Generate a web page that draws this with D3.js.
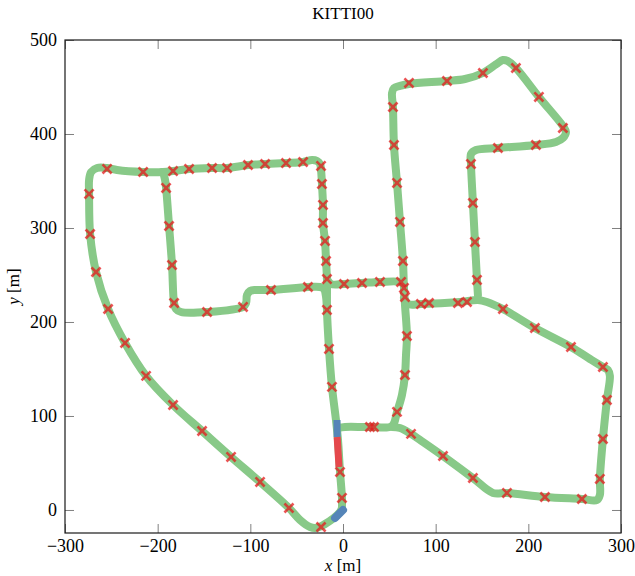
<!DOCTYPE html>
<html>
<head>
<meta charset="utf-8">
<script src="https://cdn.jsdelivr.net/npm/d3@7"></script>
<style>
  html, body { margin: 0; padding: 0; background: #fff; }
  svg { display: block; }
  text { font-family: "Liberation Serif", "Times New Roman", serif; fill: #000; }
</style>
</head>
<body>
<svg id="chart" width="635" height="576"></svg>
<script>
// ---------------- DATA (metres) ----------------
const chartTitle = "KITTI00";
const xTicks = [-300, -200, -100, 0, 100, 200, 300];
const yTicks = [0, 100, 200, 300, 400, 500];
const xDomain = [-300, 300];
const yDomain = [-24.5, 500];

const gtOuterLoop = [
  [-1.1, 2.1], [-3.2, -2.1], [-19.4, -14.9], [-29.1, -19.1], [-35.6, -18.1], [-46.4, -10.6],
  [-58.3, 2.1], [-89.5, 29.8], [-120.8, 56.4], [-152.1, 84.0], [-183.4, 111.7], [-212.5, 142.6],
  [-235.2, 177.7], [-253.5, 213.8], [-266.5, 253.2], [-272.9, 293.6], [-274.0, 336.2],
  [-274.0, 351.1], [-271.8, 359.6], [-265.4, 363.8], [-254.6, 363.8], [-243.8, 361.7],
  [-215.7, 359.6], [-194.2, 359.6], [-183.4, 360.6], [-166.1, 362.8], [-141.3, 363.8],
  [-125.1, 363.8], [-102.5, 367.0], [-84.1, 368.1], [-61.5, 369.1], [-43.1, 370.2],
  [-33.4, 372.3], [-28.0, 371.3], [-24.8, 368.1], [-23.7, 361.7], [-22.7, 346.8],
  [-21.6, 324.5], [-21.6, 305.3], [-19.4, 286.2], [-18.3, 264.9], [-17.3, 245.7],
  [-17.3, 226.6], [-17.3, 212.8], [-15.1, 171.3], [-11.9, 130.9], [-7.6, 95.7],
  [-5.4, 74.5], [-3.2, 40.4], [-1.1, 12.8], [-1.1, 2.1]
];
const gtInnerLoop = [
  [-194.2, 359.6], [-192.0, 351.1], [-190.9, 342.6], [-187.7, 302.1], [-184.5, 260.6],
  [-182.3, 220.2], [-180.2, 213.8], [-174.8, 210.6], [-146.7, 210.6], [-107.9, 216.0],
  [-104.6, 220.2], [-103.6, 228.7], [-100.3, 233.0], [-93.9, 234.0], [-77.7, 234.0],
  [-37.8, 237.2], [-24.8, 237.2], [-20.5, 235.1], [-18.3, 226.6], [-17.3, 212.8]
];
const gtCrossStreet = [
  [-17.3, 245.7], [-12.9, 240.4], [1.1, 240.4], [20.5, 241.5], [39.9, 242.6],
  [61.5, 242.6], [65.8, 239.4]
];
const gtNorthLoop = [
  [-5.4, 87.2], [2.2, 88.3], [29.1, 88.3], [52.9, 89.4], [58.3, 104.3], [63.6, 122.3],
  [66.9, 143.6], [68.0, 164.9], [69.0, 185.1], [66.9, 218.1], [65.8, 236.2], [64.7, 264.9],
  [61.5, 306.4], [58.3, 347.9], [55.0, 388.3], [53.9, 428.7], [52.9, 443.6], [55.0, 448.9],
  [61.5, 451.1], [71.2, 453.2], [112.2, 456.4], [131.6, 458.5], [151.0, 464.9],
  [165.0, 474.0], [172.6, 478.7], [177.5, 477.7], [186.6, 470.2], [211.4, 439.4],
  [237.3, 408.5], [240.6, 402.1], [237.3, 395.7], [229.8, 391.5], [208.2, 388.3],
  [167.2, 385.1], [143.5, 383.0], [138.1, 378.7], [138.1, 368.1], [140.2, 326.6],
  [142.4, 285.1], [144.6, 244.7], [145.6, 228.7]
];
const gtEastLoop = [
  [65.8, 225.5], [70.1, 219.1], [84.1, 219.1], [126.2, 221.3], [145.6, 223.4],
  [155.3, 221.3], [172.6, 213.8], [207.1, 193.6], [246.0, 173.4], [266.5, 160.6],
  [280.5, 152.1], [285.9, 148.9], [288.0, 142.6], [284.8, 117.0], [280.5, 75.5],
  [277.2, 33.0], [277.2, 16.0], [274.0, 10.6], [257.8, 11.7], [217.9, 13.8],
  [176.9, 18.1], [161.8, 18.1], [140.2, 34.0], [107.9, 57.4], [86.3, 72.3],
  [73.4, 80.9], [61.5, 87.2], [52.9, 88.3]
];

// loop-closure marks (red crosses)
const crossMarks = [
  [-23.7, -18.1], [-58.3, 2.1], [-89.5, 29.8], [-120.8, 56.4], [-152.1, 84.0], [-183.4, 111.7],
  [-212.5, 142.6], [-235.2, 177.7], [-253.5, 213.8], [-266.5, 253.2], [-272.9, 293.6],
  [-274.0, 336.2], [-254.6, 362.8], [-215.7, 359.6], [-183.4, 360.6], [-166.1, 362.8],
  [-141.3, 363.8], [-125.1, 363.8], [-102.5, 367.0], [-84.1, 368.1], [-61.5, 369.1],
  [-43.1, 370.2], [-23.7, 366.0], [-22.7, 346.8], [-21.6, 324.5], [-21.6, 305.3],
  [-19.4, 286.2], [-18.3, 264.9], [-17.3, 245.7], [-17.3, 212.8], [-15.1, 171.3],
  [-11.9, 130.9], [-3.2, 40.4], [-1.1, 12.8],
  [-190.9, 342.6], [-187.7, 302.1], [-184.5, 260.6], [-182.3, 220.2], [-146.7, 210.6],
  [-107.9, 216.0], [-77.7, 234.0], [-37.8, 237.2],
  [1.1, 240.4], [20.5, 241.5], [39.9, 242.6], [62.6, 242.6], [65.8, 236.2], [66.9, 226.6],
  [29.1, 88.3], [33.4, 88.3], [58.3, 104.3], [66.9, 143.6], [69.0, 185.1], [64.7, 264.9],
  [61.5, 306.4], [58.3, 347.9], [55.0, 388.3], [53.9, 428.7], [71.2, 454.3], [112.2, 456.4],
  [151.0, 464.9], [186.6, 470.2], [211.4, 439.4], [237.3, 406.4], [208.2, 388.3],
  [167.2, 385.1], [138.1, 368.1], [140.2, 326.6], [142.4, 285.1], [144.6, 244.7],
  [84.1, 219.1], [92.8, 220.2], [124.1, 220.2], [133.8, 221.3], [172.6, 213.8],
  [207.1, 193.6], [246.0, 173.4], [280.5, 152.1], [284.8, 117.0], [280.5, 75.5],
  [277.2, 33.0], [257.8, 11.7], [217.9, 13.8], [176.9, 18.1], [140.2, 34.0],
  [107.9, 57.4], [73.4, 80.9]
];

// estimated segments near the start
const blueUpper = [[-6.5, 95.7], [-6.3, 77.7]];
const redMiddle = [[-6.3, 77.7], [-4.3, 45.7]];
const blueStart = [[-8.6, -8.5], [0.0, 0.0]];

// ---------------- LAYOUT ----------------
const margin = { left: 65, right: 14, top: 40, bottom: 43 };
const W = 635, H = 576;
const svg = d3.select("#chart");
const x = d3.scaleLinear().domain(xDomain).range([margin.left, W - margin.right]);
const y = d3.scaleLinear().domain(yDomain).range([H - margin.bottom, margin.top]);

const green = "#88c988";
const red = "rgb(228,26,28)";
const blue = "#5585b8";

const line = d3.line().x(d => x(d[0])).y(d => y(d[1])).curve(d3.curveCatmullRom.alpha(0.5));

svg.append("defs").append("clipPath").attr("id", "clip")
  .append("rect").attr("x", margin.left).attr("y", margin.top)
  .attr("width", W - margin.left - margin.right).attr("height", H - margin.top - margin.bottom);

const plot = svg.append("g").attr("clip-path", "url(#clip)");

[gtOuterLoop, gtInnerLoop, gtCrossStreet, gtNorthLoop, gtEastLoop].forEach(seg => {
  plot.append("path").attr("d", line(seg))
    .attr("fill", "none").attr("stroke", green).attr("stroke-width", 8)
    .attr("stroke-linecap", "round").attr("stroke-linejoin", "round");
});

plot.selectAll(".cross").data(crossMarks).join("path")
  .attr("class", "cross")
  .attr("transform", d => `translate(${x(d[0])},${y(d[1])})`)
  .attr("d", d3.symbol().type(d3.symbolTimes).size(55)())
  .attr("fill", "none").attr("stroke", red).attr("stroke-opacity", 0.75)
  .attr("stroke-width", 2.6);

const segLine = d3.line().x(d => x(d[0])).y(d => y(d[1]));
plot.append("path").attr("d", segLine(blueUpper)).attr("stroke", blue)
  .attr("stroke-width", 7).attr("fill", "none");
plot.append("path").attr("d", segLine(redMiddle)).attr("stroke", "#e5484c")
  .attr("stroke-width", 7).attr("fill", "none");
plot.append("path").attr("d", segLine(blueStart)).attr("stroke", blue)
  .attr("stroke-width", 8).attr("stroke-linecap", "round").attr("fill", "none");

// ---------------- AXES ----------------
const fmt = v => (v < 0 ? "\u2212" + Math.abs(v) : String(v));
const tickLen = 9;
function styleAxis(g, showLabels) {
  g.select(".domain").remove();
  g.selectAll(".tick line").attr("stroke", "#808080").attr("stroke-width", 1);
  g.selectAll(".tick text").style("font-size", "18px").style("font-family", '"Liberation Serif", serif');
  if (!showLabels) g.selectAll(".tick text").remove();
}
svg.append("g").attr("transform", `translate(0,${H - margin.bottom})`)
  .call(d3.axisBottom(x).tickValues(xTicks).tickFormat(fmt).tickSize(-tickLen).tickPadding(6))
  .call(g => styleAxis(g, true));
svg.append("g").attr("transform", `translate(0,${margin.top})`)
  .call(d3.axisTop(x).tickValues(xTicks).tickSize(-tickLen))
  .call(g => styleAxis(g, false));
svg.append("g").attr("transform", `translate(${margin.left},0)`)
  .call(d3.axisLeft(y).tickValues(yTicks).tickFormat(fmt).tickSize(-tickLen).tickPadding(8))
  .call(g => styleAxis(g, true));
svg.append("g").attr("transform", `translate(${W - margin.right},0)`)
  .call(d3.axisRight(y).tickValues(yTicks).tickSize(-tickLen))
  .call(g => styleAxis(g, false));

svg.append("rect").attr("x", margin.left).attr("y", margin.top)
  .attr("width", W - margin.left - margin.right).attr("height", H - margin.top - margin.bottom)
  .attr("fill", "none").attr("stroke", "#1a1a1a").attr("stroke-width", 1.2);

// ---------------- TEXT ----------------
const cx = (margin.left + W - margin.right) / 2;
svg.append("text").attr("x", cx).attr("y", 19).attr("text-anchor", "middle")
  .style("font-size", "17px").text(chartTitle);

const xl = svg.append("text").attr("x", x(0)).attr("y", 571).attr("text-anchor", "middle")
  .style("font-size", "17px");
xl.append("tspan").style("font-style", "italic").text("x");
xl.append("tspan").text(" [m]");

const ymid = (margin.top + H - margin.bottom) / 2;
const yl = svg.append("text").attr("transform", `translate(19,${ymid}) rotate(-90)`)
  .attr("text-anchor", "middle").style("font-size", "17px");
yl.append("tspan").style("font-style", "italic").text("y");
yl.append("tspan").text(" [m]");
</script>
</body>
</html>
